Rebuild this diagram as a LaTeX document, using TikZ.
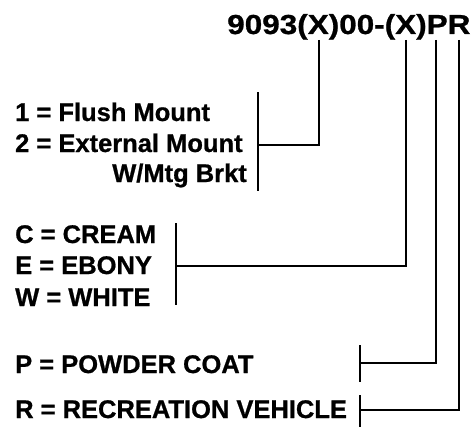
\documentclass[tikz,border=0pt]{standalone}
\usepackage{fontspec}
\setmainfont{Liberation Sans}[BoldFeatures={FakeBold=0.8}]
\tikzstyle{partno} = [
    font=\fontsize{27.5}{32}\selectfont\bfseries,
    inner sep=0pt,
    anchor=base west,
    xscale=1.145,
    transform shape
]
\tikzstyle{choice} = [
    font=\fontsize{25.5}{30}\selectfont\bfseries,
    inner sep=0pt,
    anchor=base west
]
\tikzstyle{bar} = [line width=1.6pt]
\tikzstyle{leader} = [line width=1.6pt]

\begin{document}
\begin{tikzpicture}[x=1pt, y=-1pt]
\useasboundingbox (0,0) rectangle (473,428);

\node (code) [partno] at (227,34) {9093(X)00-(X)PR};

\coordinate (tapmount) at (319,40);
\coordinate (tapcolor) at (406,40);
\coordinate (tapcoat) at (436,40);
\coordinate (tapvehicle) at (459,40);

% mounting
\node (flush) [choice] at (15,121) {1 = Flush Mount};
\node (external) [choice] at (15,152) {2 = External Mount};
\node (bracket) [choice, anchor=base east] at (247,182) {W/Mtg Brkt};

% colour
\node (cream) [choice] at (15,243) {C = CREAM};
\node (ebony) [choice] at (15,274) {E = EBONY};
\node (white) [choice] at (15,306) {W = WHITE};

% finish and use
\node (powder) [choice] at (15,373) {P = POWDER COAT};
\node (recreation) [choice] at (15,418) {R = RECREATION VEHICLE};

\coordinate (mounttop) at (258,92);
\coordinate (mountbot) at (258,191);
\coordinate (mountmid) at (258,145);
\coordinate (colortop) at (176,223);
\coordinate (colorbot) at (176,305);
\coordinate (colormid) at (176,266);
\coordinate (coattop) at (360,345);
\coordinate (coatbot) at (360,382);
\coordinate (coatmid) at (360,363);
\coordinate (vehicletop) at (360,395);
\coordinate (vehiclebot) at (360,427);
\coordinate (vehiclemid) at (360,410);

\draw [bar] (mounttop) -- (mountbot);
\draw [bar] (colortop) -- (colorbot);
\draw [bar] (coattop) -- (coatbot);
\draw [bar] (vehicletop) -- (vehiclebot);

\draw [leader] (tapmount) |- (mountmid);
\draw [leader] (tapcolor) |- (colormid);
\draw [leader] (tapcoat) |- (coatmid);
\draw [leader] (tapvehicle) |- (vehiclemid);

\end{tikzpicture}
\end{document}
